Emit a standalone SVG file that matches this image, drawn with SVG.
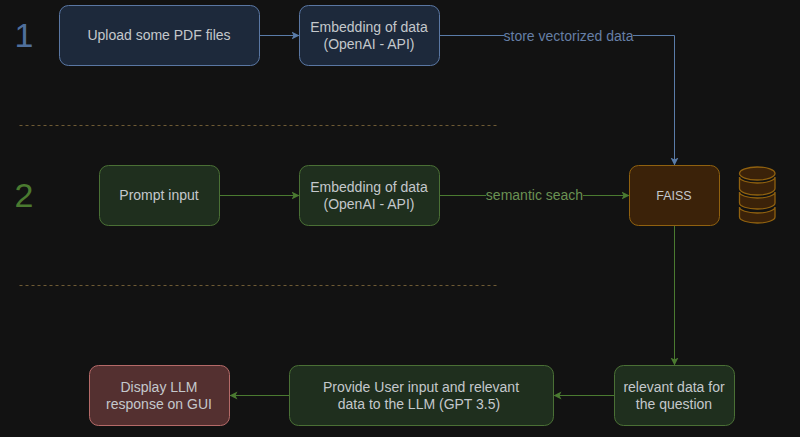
<svg xmlns="http://www.w3.org/2000/svg" width="800" height="437" viewBox="0 0 800 437">
<style>
text{font-family:"Liberation Sans",Arial,sans-serif;font-size:14px;text-anchor:middle;fill:#c4c8cc}
.b rect{fill:#1d293b;stroke:#5a77a3}
.g rect{fill:#1f2f1e;stroke:#4a7035}
.c path{fill:none;stroke-width:1}
.sep{stroke:#6e5a34;stroke-dasharray:3 3;stroke-width:1;fill:none}
.cyl path{fill:#3b2209;stroke:#90610f;stroke-width:1.3}
</style>
<defs>
<marker id="mb" markerUnits="userSpaceOnUse" markerWidth="9" markerHeight="9" refX="8" refY="4.5" orient="auto"><path d="M0 0.5L8 4.5L0 8.500L2 4.500Z" fill="#5a7ca8"/></marker>
<marker id="mg" markerUnits="userSpaceOnUse" markerWidth="9" markerHeight="9" refX="8" refY="4.5" orient="auto"><path d="M0 0.5L8 4.5L0 8.500L2 4.500Z" fill="#4a7a30"/></marker>
</defs>
<rect width="800" height="437" fill="#121212"/>
<path class="sep" d="M19.500 125.500H497"/>
<path class="sep" d="M19.500 285.500H497"/>
<g class="c" id="connectors">
<path d="M259.500 35.500H299.500" stroke="#5a7ca8" marker-end="url(#mb)"/>
<path d="M439.500 35.500H674.500V165.500" stroke="#5a7ca8" marker-end="url(#mb)"/>
<path d="M219.500 195.500H299.500" stroke="#4a7a30" marker-end="url(#mg)"/>
<path d="M439.500 195.500H629.500" stroke="#4a7a30" marker-end="url(#mg)"/>
<path d="M674.500 225.500V365.500" stroke="#4a7a30" marker-end="url(#mg)"/>
<path d="M614.500 395.500H553.500" stroke="#4a7a30" marker-end="url(#mg)"/>
<path d="M289.500 395.500H229.500" stroke="#4a7a30" marker-end="url(#mg)"/>
</g>
<rect x="504" y="28" width="129" height="16" fill="#121212"/>
<text x="568.500" y="41" style="fill:#667fa6">store vectorized data</text>
<rect x="486" y="188" width="97" height="16" fill="#121212"/>
<text x="534.500" y="200" style="fill:#6a9153">semantic seach</text>
<text x="24" y="47" style="font-size:34px;fill:#4f6f9c">1</text>
<text x="24" y="207" style="font-size:34px;fill:#4a7a30">2</text>
<g id="n1" class="b"><rect x="59.500" y="5.500" width="200" height="60" rx="9"/><text x="159" y="40">Upload some PDF files</text></g>
<g id="n2" class="b"><rect x="299.500" y="5.500" width="140" height="60" rx="9"/><text x="369" y="32">Embedding of data</text><text x="369" y="49">(OpenAI - API)</text></g>
<g id="n3" class="g"><rect x="99.500" y="165.500" width="120" height="60" rx="9"/><text x="159" y="200">Prompt input</text></g>
<g id="n4" class="g"><rect x="299.500" y="165.500" width="140" height="60" rx="9"/><text x="369" y="192">Embedding of data</text><text x="369" y="209">(OpenAI - API)</text></g>
<g id="n5"><rect x="629.500" y="165.500" width="90" height="60" rx="9" fill="#3b2209" stroke="#90610f"/><text x="674" y="200" style="font-size:12.500px">FAISS</text></g>
<g id="n6" class="cyl">
<path d="M739.500 207V217a17.750 6 0 0 0 35.500 0V207a17.750 6 0 0 1-35.500 0Z"/>
<path d="M739.500 192V203a17.750 6 0 0 0 35.500 0V192a17.750 6 0 0 1-35.500 0Z"/>
<path d="M739.500 177V188.500a17.750 6.500 0 0 0 35.500 0V177a17.750 6 0 0 1-35.500 0Z"/>
<path d="M739.500 173.500a17.750 6.500 0 0 1 35.500 0a17.750 6.500 0 0 1-35.500 0Z"/>
</g>
<g id="n7" class="g"><rect x="614.500" y="365.500" width="120" height="60" rx="9"/><text x="674" y="392">relevant data for</text><text x="674" y="409">the question</text></g>
<g id="n8" class="g"><rect x="289.500" y="365.500" width="264" height="60" rx="9"/><text x="421" y="392">Provide User input and relevant</text><text x="419" y="409">data to the LLM (GPT 3.5)</text></g>
<g id="n9"><rect x="89.500" y="365.500" width="140" height="60" rx="9" fill="#543030" stroke="#b56a68"/><text x="159" y="392">Display LLM</text><text x="159" y="409">response on GUI</text></g>
</svg>
